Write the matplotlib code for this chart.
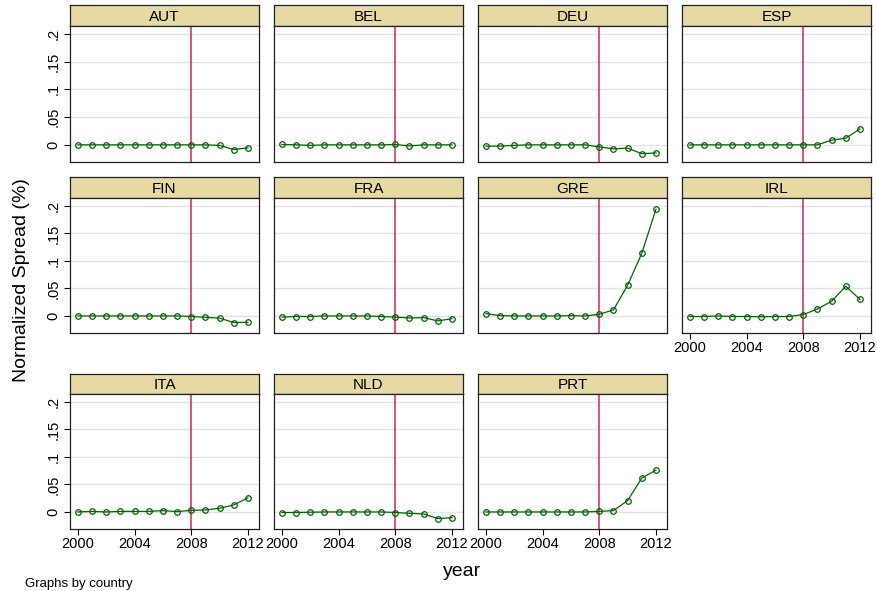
import matplotlib
matplotlib.use('Agg')
import matplotlib.pyplot as plt

plt.rcParams['font.family'] = ['Liberation Sans', 'DejaVu Sans']

years = list(range(2000, 2013))

aut = [0.0, 0.0, 0.0, 0.0, 0.0, 0.0, 0.0, 0.0, 0.0, 0.0, -0.001, -0.0085, -0.0055]
bel = [0.0006, 0.0, -0.001, 0.0, 0.0, 0.0, 0.0, 0.0, 0.0006, -0.002, 0.0, 0.0, 0.0]
deu = [-0.0024, -0.0024, -0.001, 0.0, 0.0, 0.0, 0.0, 0.0, -0.0037, -0.0073, -0.006, -0.016, -0.0146]
esp = [0.0, 0.0, 0.0, 0.0, 0.0, 0.0, 0.0, 0.0, 0.0, 0.0, 0.0085, 0.012, 0.0287]
fin = [0.0, 0.0, 0.0, 0.0, 0.0, 0.0, 0.0, 0.0, -0.001, -0.0024, -0.004, -0.012, -0.0116]
fra = [-0.002, -0.001, -0.001, 0.0, 0.0, 0.0, 0.0, -0.001, -0.002, -0.0037, -0.003, -0.009, -0.005]
gre = [0.0042, 0.0006, 0.0, 0.0, 0.0, 0.0, 0.0005, 0.0, 0.003, 0.011, 0.0558, 0.114, 0.194]
irl = [-0.001, -0.001, 0.0, -0.001, -0.001, -0.0015, -0.001, -0.001, 0.0024, 0.0127, 0.0267, 0.054, 0.030]
ita = [0.0, 0.001, 0.0, 0.001, 0.001, 0.001, 0.0024, 0.0006, 0.003, 0.0036, 0.0067, 0.0128, 0.0256]
nld = [-0.001, -0.001, -0.0005, 0.0, 0.0, 0.0, 0.0, 0.0, -0.001, -0.0024, -0.0037, -0.012, -0.0104]
prt = [0.0, 0.0, 0.0, 0.0, 0.0, 0.0, 0.0, 0.0, 0.001, 0.0024, 0.0207, 0.0616, 0.076]

countries = ['AUT', 'BEL', 'DEU', 'ESP', 'FIN', 'FRA', 'GRE', 'IRL', 'ITA', 'NLD', 'PRT']
series = [aut, bel, deu, esp, fin, fra, gre, irl, ita, nld, prt]

yticks = [0, 0.05, 0.1, 0.15, 0.2]
ytick_labels = ['0', '.05', '.1', '.15', '.2']
xticks = [2000, 2004, 2008, 2012]

W, H = 878, 591
fig = plt.figure(figsize=(W / 100, H / 100), dpi=100)

col_x = [70, 274, 478, 682]
pw = 189
# (header top, plot top, plot bottom) in pixels
rows = [(5, 26, 162), (177, 198, 333), (374, 394, 529)]


def px_axes(x0, y0, x1, y1):
    return fig.add_axes([x0 / W, 1 - y1 / H, (x1 - x0) / W, (y1 - y0) / H])


for i, (name, vals) in enumerate(zip(countries, series)):
    r, c = divmod(i, 4)
    htop, ptop, pbot = rows[r]
    x0 = col_x[c]

    hax = px_axes(x0, htop, x0 + pw, ptop)
    hax.set_facecolor('#e6d9a4')
    hax.set_xticks([])
    hax.set_yticks([])
    for s in hax.spines.values():
        s.set_color('#222222')
        s.set_linewidth(0.9)
    hax.text(0.5, 0.45, name, ha='center', va='center', fontsize=11,
             transform=hax.transAxes)

    ax = px_axes(x0, ptop, x0 + pw, pbot)
    ax.set_xlim(1999.44, 2012.78)
    ax.set_ylim(-0.031, 0.2145)
    for yt in yticks:
        ax.axhline(yt, color='#e3e3e3', lw=1, zorder=0)
    ax.axvline(2008, color='#d6245a', lw=1.1, zorder=1)
    ax.plot(years, vals, color='#006400', lw=0.9, marker='o', ms=4,
            mfc='none', mec='#006400', mew=0.9, zorder=2)
    for s in ax.spines.values():
        s.set_color('#222222')
        s.set_linewidth(0.9)

    ax.set_yticks(yticks)
    if c == 0:
        ax.set_yticklabels(ytick_labels, rotation=90, va='center', fontsize=10.5)
        ax.tick_params(axis='y', length=4, width=0.8, pad=3)
    else:
        ax.tick_params(axis='y', length=0, labelleft=False)

    ax.set_xticks(xticks)
    if r == 2 or name == 'IRL':
        ax.set_xticklabels([str(x) for x in xticks], fontsize=10.5)
        ax.tick_params(axis='x', length=4, width=0.8, pad=2)
    else:
        ax.tick_params(axis='x', length=0, labelbottom=False)

fig.text(22 / W, 1 - 280 / H, 'Normalized Spread (%)', rotation=90,
         ha='center', va='center', fontsize=14)
fig.text(462 / W, 1 - 572 / H, 'year', ha='center', va='center', fontsize=14)
fig.text(25 / W, 1 - 590 / H, 'Graphs by country', ha='left', va='bottom',
         fontsize=9.5)

fig.savefig('out.png', dpi=100, facecolor='white')
